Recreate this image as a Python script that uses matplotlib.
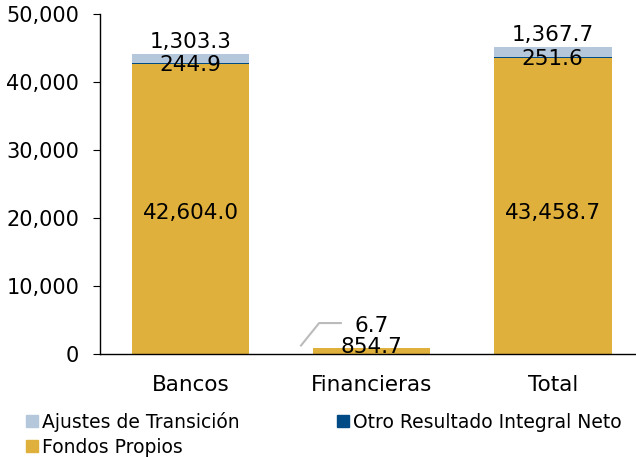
import matplotlib
matplotlib.use("Agg")
import matplotlib.pyplot as plt
import numpy as np
from matplotlib.patches import Patch

categories = ["Bancos", "Financieras", "Total"]
fondos_propios = [42604.0, 854.7, 43458.7]
otro_resultado = [244.9, 6.7, 251.6]
ajustes = [1303.3, 64.4, 1367.7]
yticks = [0, 10000, 20000, 30000, 40000, 50000]

c_fp = "#E0B03C"
c_ori = "#004A86"
c_aj = "#B4C7DB"

plt.rcParams['font.family'] = ['DejaVu Sans']
fig = plt.figure(figsize=(6.36, 4.57), dpi=100)
ax = fig.add_axes([100/636, 103/457, 536/636, 340/457])

x = np.arange(len(categories))
w = 0.65
fp = np.array(fondos_propios)
ori = np.array(otro_resultado)
aj = np.array(ajustes)
ax.bar(x, fp, w, color=c_fp)
ax.bar(x, ori, w, bottom=fp, color=c_ori)
ax.bar(x, aj, w, bottom=fp + ori, color=c_aj)

ax.set_xlim(-0.5, 2.46)
ax.set_ylim(0, 50000)
ax.set_yticks(yticks)
ax.set_yticklabels([f"{v:,.0f}" for v in yticks], fontsize=15)
ax.set_xticks(x)
ax.set_xticklabels(categories, fontsize=15.5)
ax.tick_params(axis='x', length=0, pad=15)
ax.tick_params(axis='y', length=5, direction='out', pad=10)
for s in ['top', 'right']:
    ax.spines[s].set_visible(False)
ax.spines['left'].set_linewidth(1.0)
ax.spines['bottom'].set_linewidth(1.0)

fs = 15.5
# Fondos Propios labels
for i in [0, 2]:
    ax.text(x[i], 20800, f"{fp[i]:,.1f}", ha='center', va='center', fontsize=fs)
ax.text(x[1], 1000, f"{fp[1]:,.1f}", ha='center', va='center', fontsize=fs)
# ORI labels
for i in [0, 2]:
    ax.text(x[i], fp[i] + ori[i] - 300, f"{ori[i]:,.1f}", ha='center', va='center', fontsize=fs)
ax.text(x[1], 4150, f"{ori[1]:,.1f}", ha='center', va='center', fontsize=fs)
ax.plot([x[1] - 0.39, x[1] - 0.29, x[1] - 0.17], [1250, 4550, 4550], color='#BBBBBB', lw=1.5)
# Ajustes labels
for i in [0, 2]:
    ax.text(x[i], fp[i] + ori[i] + aj[i] + 1800, f"{aj[i]:,.1f}", ha='center', va='center', fontsize=fs)

handles = [Patch(color=c_aj, label="Ajustes de Transición"),
           Patch(color=c_fp, label="Fondos Propios"),
           Patch(color=c_ori, label="Otro Resultado Integral Neto")]
fig.legend(handles=handles, loc='lower left', bbox_to_anchor=(0.015, -0.036), ncol=2,
           frameon=False, fontsize=13.5, handlelength=0.6, handleheight=0.6,
           handletextpad=0.25, columnspacing=5.2, labelspacing=0.3)

fig.savefig("out.png", dpi=100)
